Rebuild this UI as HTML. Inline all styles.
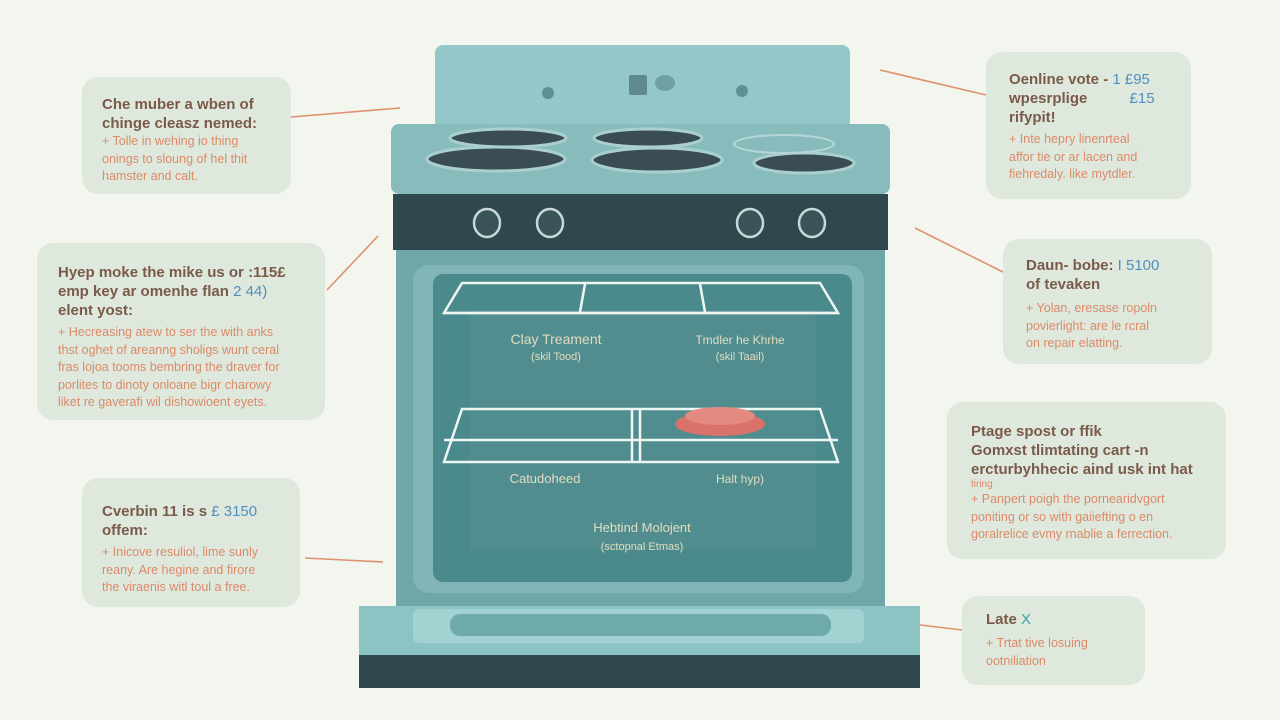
<!DOCTYPE html>
<html><head><meta charset="utf-8"><style>
body{margin:0;width:1280px;height:720px;background:#f3f5ef;overflow:hidden;position:relative;font-family:"Liberation Sans",sans-serif}
.b{position:absolute;background:#dfe8dc;border-radius:16px;box-sizing:border-box}
.t{color:#7a5a4a;font-size:15px;line-height:19px;font-weight:bold}
.d{color:#dc8a68;font-size:12.5px;line-height:17.5px;margin-top:4px}
.n{color:#4f8fc0;font-weight:normal}
svg{position:absolute;left:0;top:0}
</style></head><body>
<svg width="1280" height="720" viewBox="0 0 1280 720">
<g stroke="#e0906c" stroke-width="1.6" fill="none">
<line x1="291" y1="117" x2="400" y2="108"/><line x1="327" y1="290" x2="378" y2="236"/>
<line x1="305" y1="558" x2="383" y2="562"/><line x1="880" y1="70" x2="986" y2="95"/>
<line x1="915" y1="228" x2="1003" y2="272"/><line x1="912" y1="624" x2="962" y2="630"/>
</g>
<rect x="435" y="45" width="415" height="85" rx="8" fill="#94c8c8"/>
<circle cx="548" cy="93" r="6" fill="#5e8f92"/><circle cx="742" cy="91" r="6" fill="#5e8f92"/>
<rect x="629" y="75" width="18" height="20" rx="2" fill="#5e8a8c"/><ellipse cx="665" cy="83" rx="10" ry="8" fill="#6f9fa1"/>
<rect x="391" y="124" width="499" height="70" rx="8" fill="#88bcbc"/>
<g fill="#3a4d52" stroke="#aacfcf" stroke-width="3">
<ellipse cx="508" cy="138" rx="58" ry="9"/><ellipse cx="648" cy="138" rx="54" ry="9"/>
<ellipse cx="496" cy="159" rx="69" ry="12"/><ellipse cx="657" cy="160" rx="65" ry="12"/><ellipse cx="804" cy="163" rx="50" ry="10"/>
</g>
<ellipse cx="784" cy="144" rx="50" ry="9" fill="none" stroke="#b5d6d6" stroke-width="2"/>
<rect x="393" y="194" width="495" height="56" fill="#2f484d"/>
<g fill="#3a5358" stroke="#c8d8d8" stroke-width="2.5">
<ellipse cx="487" cy="223" rx="13" ry="14"/><ellipse cx="550" cy="223" rx="13" ry="14"/><ellipse cx="750" cy="223" rx="13" ry="14"/><ellipse cx="812" cy="223" rx="13" ry="14"/>
</g>
<rect x="396" y="250" width="489" height="358" fill="#6fa7a8"/>
<rect x="413" y="265" width="451" height="328" rx="16" fill="#80b6b6"/>
<rect x="433" y="274" width="419" height="308" rx="10" fill="#4b8a8c"/>
<rect x="470" y="310" width="345" height="240" fill="#558f90" opacity=".6"/>
<g stroke="#eef6f4" stroke-width="2.5" fill="none">
<path d="M444 313 L462 283 L820 283 L838 313 Z"/><line x1="444" y1="313" x2="838" y2="313"/>
<line x1="585" y1="284" x2="580" y2="312"/><line x1="700" y1="284" x2="705" y2="312"/>
<path d="M444 462 L462 409 L820 409 L838 462 Z"/><line x1="444" y1="440" x2="838" y2="440"/>
<line x1="632" y1="409" x2="632" y2="462"/><line x1="640" y1="409" x2="640" y2="462"/>
</g>
<ellipse cx="720" cy="424" rx="45" ry="12" fill="#d9726a"/><ellipse cx="720" cy="416" rx="35" ry="9" fill="#e38a80"/>
<rect x="359" y="606" width="561" height="50" fill="#8cc3c4"/>
<rect x="413" y="609" width="451" height="34" rx="6" fill="#a3d2d2"/>
<rect x="450" y="614" width="381" height="22" rx="10" fill="#6eaaa9"/>
<rect x="359" y="655" width="561" height="33" fill="#2f484d"/>
<g fill="#e0dcc0" font-family="Liberation Sans" text-anchor="middle">
<text x="556" y="344" font-size="14">Clay Treament</text><text x="556" y="360" font-size="11">(skil Tood)</text>
<text x="740" y="344" font-size="12">Tmdler he Khrhe</text><text x="740" y="360" font-size="11">(skil Taail)</text>
<text x="545" y="483" font-size="13">Catudoheed</text><text x="740" y="483" font-size="12">Halt hyp)</text>
<text x="642" y="532" font-size="13">Hebtind Molojent</text><text x="642" y="550" font-size="11">(sctopnal Etmas)</text>
</g>
</svg>
<div class="b" style="left:82px;top:77px;width:209px;height:117px;padding:18px 0 0 20px"><div class="t">Che muber a wben of<br>chinge cleasz nemed:</div><div class="d" style="margin-top:0">+ Tolle in wehing io thing<br>onings to sloung of hel thit<br>hamster and calt.</div></div>
<div class="b" style="left:37px;top:243px;width:288px;height:177px;padding:20px 0 0 21px"><div class="t">Hyep moke the mike us or :115£<br>emp key ar omenhe flan <span class="n">2 44)</span><br>elent yost:</div><div class="d">+ Hecreasing atew to ser the with anks<br>thst oghet of areanng sholigs wunt ceral<br>fras lojoa tooms bembring the draver for<br>porlites to dinoty onloane bigr charowy<br>liket re gaverafi wil dishowioent eyets.</div></div>
<div class="b" style="left:82px;top:478px;width:218px;height:129px;padding:24px 0 0 20px"><div class="t">Cverbin 11 is s <span class="n">£ 3150</span><br>offem:</div><div class="d">+ Inicove resuliol, lime sunly<br>reany. Are hegine and firore<br>the viraenis witl toul a free.</div></div>
<div class="b" style="left:986px;top:52px;width:205px;height:147px;padding:18px 0 0 23px"><div class="t">Oenline vote - <span class="n">1 £95</span><br>wpesrplige <span class="n" style="margin-left:38px">£15</span><br>rifypit!</div><div class="d">+ Inte hepry linenrteal<br>affor tie or ar lacen and<br>fiehredaly. like mytdler.</div></div>
<div class="b" style="left:1003px;top:239px;width:209px;height:125px;padding:17px 0 0 23px"><div class="t">Daun- bobe: <span class="n">I 5100</span><br>of tevaken</div><div class="d" style="margin-top:6px">+ Yolan, eresase ropoln<br>povierlight: are le rcral<br>on repair elatting.</div></div>
<div class="b" style="left:947px;top:402px;width:279px;height:157px;padding:20px 0 0 24px"><div class="t">Ptage spost or ffik<br>Gomxst tlimtating cart -n<br>ercturbyhhecic aind usk int hat</div><div class="d" style="margin-top:0;font-size:10px;line-height:12px">tiring</div><div class="d" style="margin-top:0">+ Panpert poigh the pornearidvgort<br>poniting or so with gaiiefting o en<br>goralrelice evmy rnablie a ferrection.</div></div>
<div class="b" style="left:962px;top:596px;width:183px;height:89px;padding:14px 0 0 24px"><div class="t">Late <span class="n" style="color:#3aa6a8">X</span></div><div class="d" style="margin-top:6px">+ Trtat tive losuing<br>ootniliation</div></div>
</body></html>
